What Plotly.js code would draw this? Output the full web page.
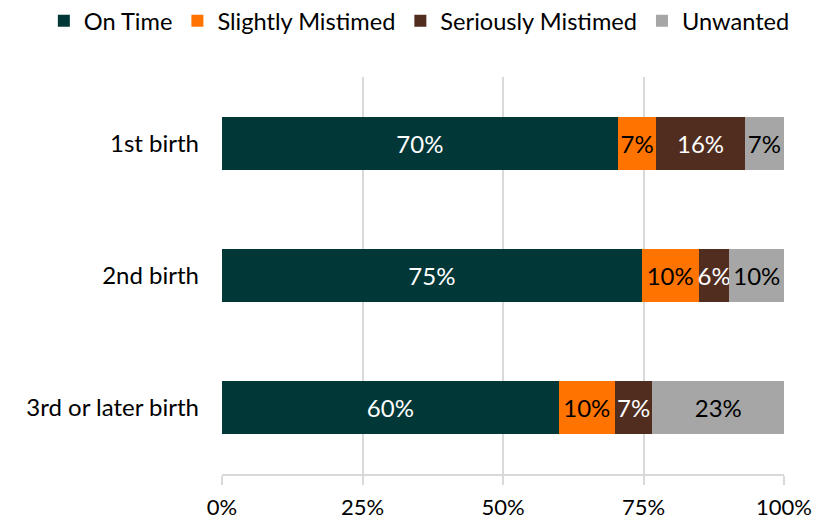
<!DOCTYPE html>
<html>
<head>
<meta charset="utf-8">
<script src="https://cdn.plot.ly/plotly-3.0.1.min.js"></script>
<style>html,body{margin:0;padding:0;background:#fff;}#chart{width:831px;height:521px;}</style>
</head>
<body>
<div id="chart"></div>
<script>
const categories = ["1st birth", "2nd birth", "3rd or later birth"];
const onTime = [70.4, 74.7, 59.9];
const slightlyMistimed = [6.9, 10.1, 10.0];
const seriouslyMistimed = [15.7, 5.5, 6.7];
const unwanted = [7.0, 9.7, 23.4];
const onTimeLabels = ["70%", "75%", "60%"];
const slightlyLabels = ["7%", "10%", "10%"];
const seriouslyLabels = ["16%", "6%", "7%"];
const unwantedLabels = ["7%", "10%", "23%"];
const tickVals = [0, 25, 50, 75, 100];
const tickText = ["0%", "25%", "50%", "75%", "100%"];

const FONT = "Lato, 'Open Sans', sans-serif";
function mk(name, vals, labels, color, txtColor) {
  return {
    type: "bar", orientation: "h", name: name,
    y: categories, x: vals, text: labels,
    textposition: "inside", insidetextanchor: "middle",
    constraintext: "none", textangle: 0,
    textfont: {family: FONT, size: 24, color: txtColor},
    marker: {color: color},
    hoverinfo: "skip"
  };
}
const data = [
  mk("On Time", onTime, onTimeLabels, "#023738", "#ffffff"),
  mk("Slightly Mistimed", slightlyMistimed, slightlyLabels, "#ff7400", "#000000"),
  mk("Seriously Mistimed", seriouslyMistimed, seriouslyLabels, "#512d20", "#ffffff"),
  mk("Unwanted", unwanted, unwantedLabels, "#a6a6a6", "#000000")
];
const layout = {
  width: 831, height: 521,
  margin: {l: 222, r: 47, t: 77, b: 47, autoexpand: false},
  barmode: "stack", bargap: 0.6,
  paper_bgcolor: "#fff", plot_bgcolor: "#fff",
  font: {family: FONT, size: 22, color: "#000"},
  showlegend: true,
  legend: {orientation: "h", x: -0.317, xanchor: "left", xref: "paper",
           y: 1.086, yanchor: "bottom", yref: "paper",
           font: {family: FONT, size: 23.6, color: "#000"}, traceorder: "normal"},
  xaxis: {range: [0, 100], tickvals: tickVals, ticktext: tickText,
          showgrid: true, gridcolor: "#d9d9d9", gridwidth: 2,
          showline: true, linecolor: "#d9d9d9", linewidth: 2,
          ticks: "outside", ticklen: 9, tickcolor: "#d9d9d9", tickwidth: 2,
          ticklabelstandoff: 4,
          zeroline: false, fixedrange: true, automargin: false,
          tickfont: {family: FONT, size: 22, color: "#000"}},
  yaxis: {autorange: "reversed", showgrid: false, showline: false, zeroline: false,
          ticks: "", ticklen: 0, fixedrange: true, ticklabelstandoff: 22, automargin: false,
          tickfont: {family: FONT, size: 24, color: "#000"}}
};
Plotly.newPlot("chart", data, layout, {displayModeBar: false, staticPlot: true});
</script>
</body>
</html>
